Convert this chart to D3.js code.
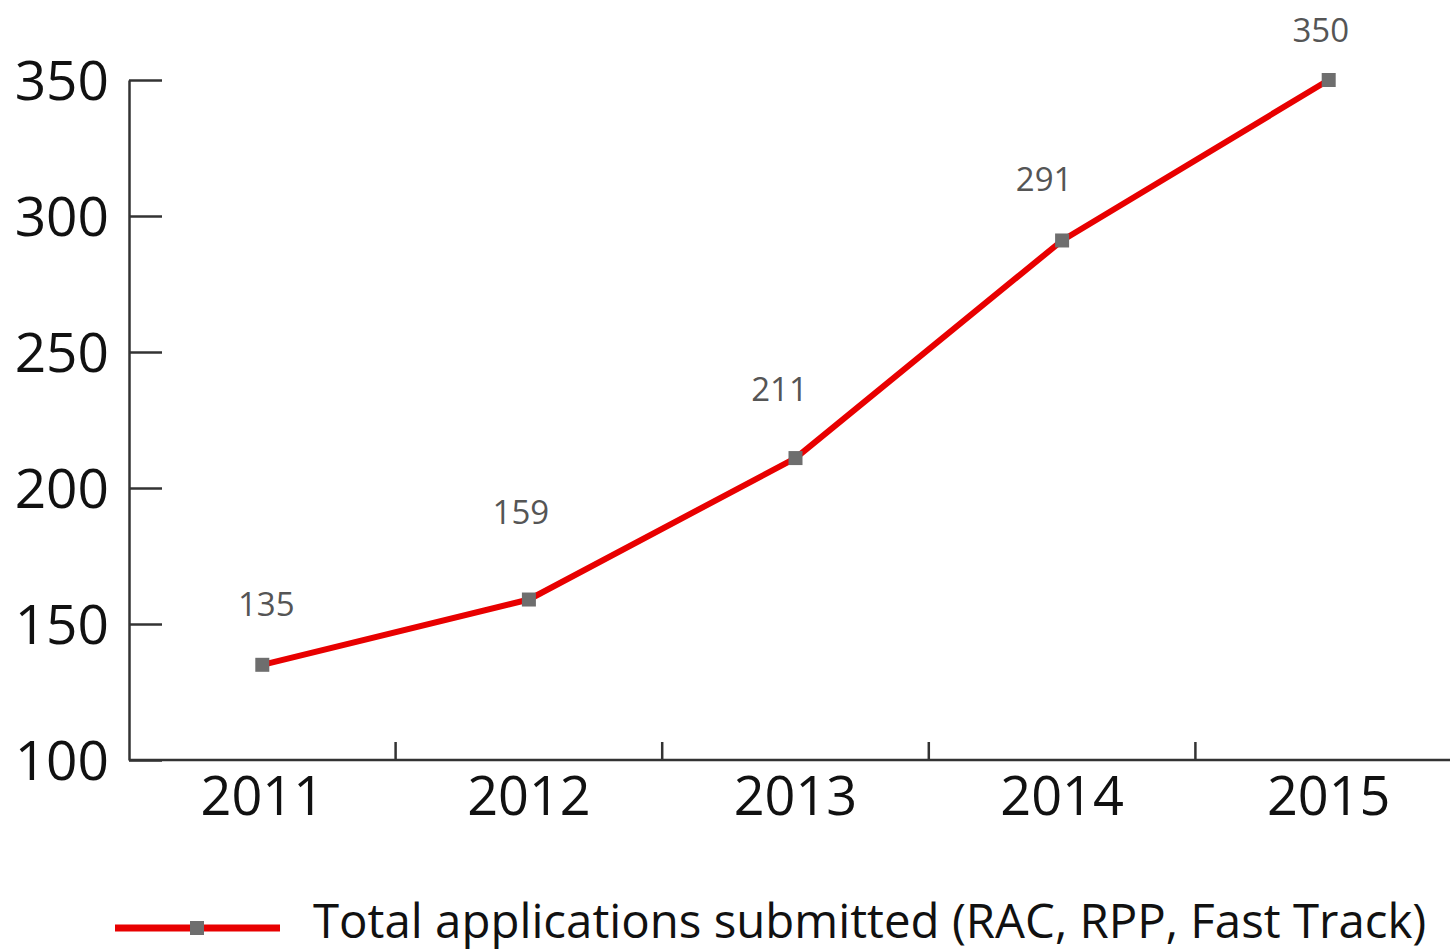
<!DOCTYPE html>
<html><head><meta charset="utf-8">
<script src="https://cdn.jsdelivr.net/npm/d3@7"></script>
<style>body{margin:0;background:#fff;} svg{display:block;}</style>
</head><body>
<svg id="chart" width="1450" height="951"></svg>
<script>
const years = ["2011","2012","2013","2014","2015"];
const values = [135,159,211,291,350];
const yTicks = [100,150,200,250,300,350];
const seriesName = "Total applications submitted (RAC, RPP, Fast Track)";
// label placement offsets (layout only)
const labelDx = [4,-8,-16,-18,-8];
const labelDy = [-60,-87,-69,-61,-50];

const svg = d3.select("#chart");
const font = "'Open Sans', 'Noto Sans', sans-serif";
const x = d3.scaleBand().domain(years).range([129, 1462]).padding(0);
const y = d3.scaleLinear().domain([100,350]).range([760, 80]);

// y axis
const yAxis = d3.axisLeft(y).tickValues(yTicks).tickSize(-33).tickPadding(54).tickSizeOuter(0);
const gy = svg.append("g").attr("transform","translate(129,0)").call(yAxis);
gy.select(".domain").attr("stroke","#333").attr("stroke-width",2.5);
gy.selectAll(".tick line").attr("stroke","#333").attr("stroke-width",2.5);
gy.selectAll(".tick text").attr("font-family",font).attr("font-size",55).attr("fill","#111").attr("dy","0.35em").attr("x",-20);

// x axis
const gx = svg.append("g").attr("transform","translate(0,760)");
gx.append("line").attr("x1",129).attr("x2",1450).attr("y1",0).attr("y2",0).attr("stroke","#333").attr("stroke-width",2.5);
gx.selectAll("line.tk").data(years.slice(1)).join("line").attr("class","tk")
  .attr("x1",d=>x(d)).attr("x2",d=>x(d)).attr("y1",0).attr("y2",-18)
  .attr("stroke","#333").attr("stroke-width",2.5);
gx.selectAll("text").data(years).join("text")
  .attr("x",d=>x(d)+x.bandwidth()/2).attr("y",55)
  .attr("text-anchor","middle").attr("font-family",font).attr("font-size",54).attr("fill","#111")
  .text(d=>d);

// line
const pts = years.map((d,i)=>({year:d,value:values[i],i}));
const line = d3.line().x(d=>x(d.year)+x.bandwidth()/2).y(d=>y(d.value));
svg.append("path").datum(pts).attr("d",line).attr("fill","none").attr("stroke","#e80000").attr("stroke-width",6).attr("stroke-linejoin","round");
const ms = 14;
svg.selectAll("rect.mk").data(pts).join("rect").attr("class","mk")
  .attr("x",d=>x(d.year)+x.bandwidth()/2-ms/2).attr("y",d=>y(d.value)-ms/2)
  .attr("width",ms).attr("height",ms).attr("fill","#6e6e6e");
svg.selectAll("text.lbl").data(pts).join("text").attr("class","lbl")
  .attr("x",d=>x(d.year)+x.bandwidth()/2+labelDx[d.i]).attr("y",d=>y(d.value)+labelDy[d.i])
  .attr("dy","0.35em").attr("text-anchor","middle").attr("font-family",font).attr("font-size",33).attr("fill","#555")
  .text(d=>d.value);

// legend
const lg = svg.append("g").attr("transform","translate(0,928)");
lg.append("line").attr("x1",115).attr("x2",280).attr("stroke","#e80000").attr("stroke-width",7);
lg.append("rect").attr("x",190).attr("y",-7).attr("width",14).attr("height",14).attr("fill","#6e6e6e");
lg.append("text").attr("x",313).attr("y",10).attr("font-family",font).attr("font-size",47.4).attr("fill","#111").text(seriesName);
</script>
</body></html>
